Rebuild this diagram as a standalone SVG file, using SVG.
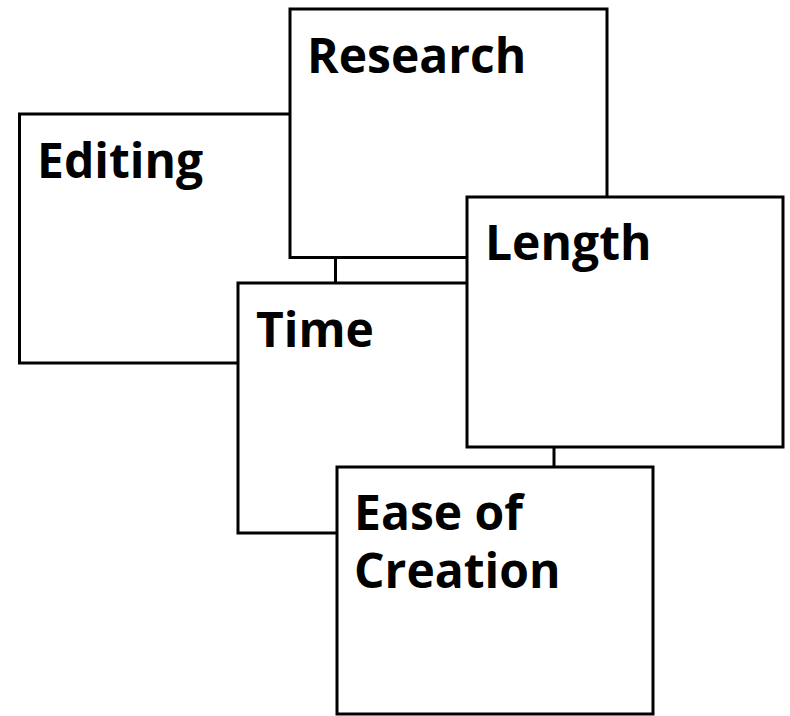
<svg xmlns="http://www.w3.org/2000/svg" width="790" height="716" viewBox="0 0 790 716">
<style>
.box{fill:#fff;stroke:#000;stroke-width:3;stroke-linejoin:miter}
.lbl{font-family:"Open Sans","Noto Sans","DejaVu Sans",sans-serif;font-weight:bold;font-size:48px;fill:#000}
</style>
<rect width="790" height="716" fill="#fff"/>
<g id="editing"><rect class="box" x="19.5" y="114" width="316" height="249"/><text class="lbl" x="37" y="178">Editing</text></g>
<g id="research"><rect class="box" x="290" y="9" width="317" height="248.5"/><text class="lbl" x="307" y="73">Research</text></g>
<g id="time"><rect class="box" x="238" y="283" width="316" height="250"/><text class="lbl" x="256" y="347">Time</text></g>
<g id="length"><rect class="box" x="467" y="197" width="316" height="250"/><text class="lbl" x="485" y="260">Length</text></g>
<g id="ease"><rect class="box" x="337" y="467" width="316" height="247"/><text class="lbl" x="354" y="530">Ease of<tspan x="354" y="588">Creation</tspan></text></g>
</svg>
